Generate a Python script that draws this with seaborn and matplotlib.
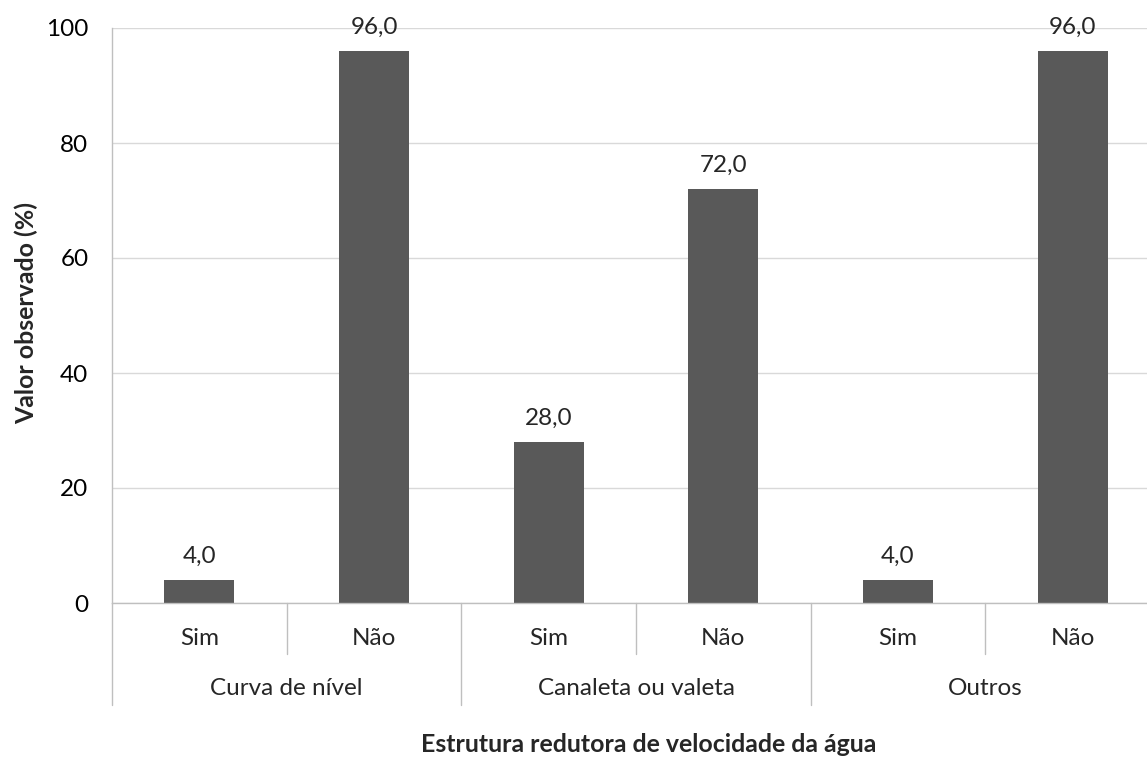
import matplotlib
matplotlib.use("Agg")
import matplotlib.pyplot as plt
import seaborn as sns
import pandas as pd
import numpy as np

groups = ["Curva de nível", "Canaleta ou valeta", "Outros"]
subcats = ["Sim", "Não"]
values = [4.0, 96.0, 28.0, 72.0, 4.0, 96.0]
yticks = [0, 20, 40, 60, 80, 100]

sns.set_theme(style="white")
plt.rcParams['font.family'] = ['Lato', 'DejaVu Sans']

FS = 17.5
FSB = 17.9

labels = [f"{g}|{s}" for g in groups for s in subcats]
df = pd.DataFrame({"cat": labels, "val": values})

fig = plt.figure(figsize=(11.47, 7.6), dpi=100)
ax = fig.add_axes([112/1147, 1 - 603/760, 1048/1147, (603 - 28)/760])
sns.barplot(data=df, x="cat", y="val", order=labels, color="#595959",
            width=0.4, saturation=1, ax=ax, edgecolor="none")

ax.set_ylim(0, 100)
ax.set_xlim(-0.5, len(labels) - 0.5)
ax.set_yticks(yticks)
ax.set_yticklabels([str(t) for t in yticks], fontsize=FS, color="black")
ax.tick_params(axis="y", length=0, pad=17)
ax.yaxis.grid(True, color="#d9d9d9", linewidth=1)
ax.set_axisbelow(True)
for s in ["top", "right"]:
    ax.spines[s].set_visible(False)
ax.spines["left"].set_color("#bfbfbf")
ax.spines["bottom"].set_color("#bfbfbf")
ax.spines["left"].set_linewidth(1)
ax.spines["bottom"].set_linewidth(1)
ax.set_xticks([])
ax.set_xlabel("")
ax.set_ylabel("")

for i, v in enumerate(values):
    ax.annotate(f"{v:.1f}".replace(".", ","), (i, v), xytext=(0, 12),
                textcoords="offset points", ha="center", va="baseline", fontsize=FS)

trans = ax.get_xaxis_transform()
n = len(labels)
for b in range(n + 1):
    x = b - 0.5
    depth = -0.177 if b % 2 == 0 else -0.0887
    ax.plot([x, x], [0, depth], transform=trans, color="#bfbfbf", lw=1, clip_on=False)
for i, lab in enumerate(labels):
    ax.text(i, -0.0626, lab.split("|")[1], transform=trans, ha="center", va="center", fontsize=FS)
for gi, g in enumerate(groups):
    ax.text(gi * 2 + 0.5, -0.148, g, transform=trans, ha="center", va="center", fontsize=FS)

fig.text(26 / 1147, 1 - 313 / 760, "Valor observado (%)", rotation=90,
         ha="center", va="center", fontsize=FSB, fontweight="bold")
fig.text(649 / 1147, 1 - 745 / 760,
         "Estrutura redutora de velocidade da água", ha="center", va="center",
         fontsize=FSB, fontweight="bold")

fig.savefig("out.png", dpi=100)
